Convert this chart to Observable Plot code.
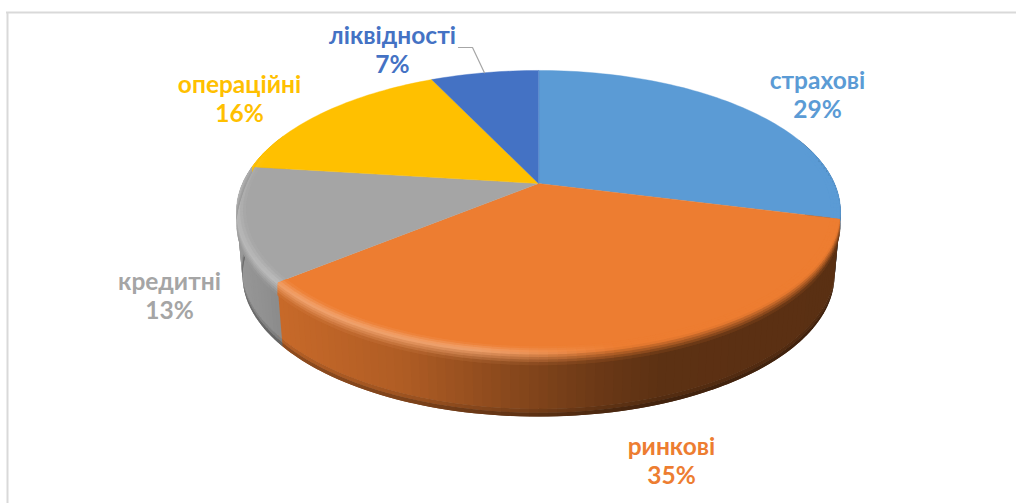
<!DOCTYPE html>
<html><head><meta charset="utf-8">
<script src="https://cdn.jsdelivr.net/npm/d3@7"></script>
<script src="https://cdn.jsdelivr.net/npm/@observablehq/plot@0.6"></script>
<style>html,body{margin:0;padding:0;background:#fff}svg{display:block}</style>
</head><body><div id="chart"></div>
<script>
const categories = ["страхові", "ринкові", "кредитні", "операційні", "ліквідності"];
const shares = [29, 35, 13, 16, 7];
const colors = ["#5B9BD5", "#ED7D31", "#A5A5A5", "#FFC000", "#4472C4"];

// layout
const W = 1016, H = 503;
const labelX = [817, 671, 169, 239, 392];
const labelY = [81, 447, 282, 85, 36];
const cx = 538, cy = 183, R = 296, S = 135.5, k = 0.1988;
const bevelDrop = 12, depth = 64, bottomScale = 0.98, inner = 0.97;
const STEP = 1.5 * Math.PI / 180;

const total = d3.sum(shares);
const cum = d3.cumsum(shares);
const angle = v => v / total * 2 * Math.PI;
const slices = categories.map((c, i) => ({c, i, a0: angle(i ? cum[i - 1] : 0), a1: angle(cum[i]), color: colors[i]}));

function P(t, r = 1) {
  const u = r * Math.sin(t), v = r * Math.cos(t), w = 1 + k * v;
  return [cx + R * u / w, cy - S * v / w];
}
const wallShade = d3.scaleLinear().domain([236, 280, 400, 500, 600, 660, 840]).range([.92, .84, .74, .59, .45, .39, .38]).clamp(true);
const highlight = d3.scaleLinear().domain([236, 300, 480, 620]).range([.22, .3, .3, 0]).clamp(true);
const shade = (c, f) => { const q = d3.rgb(c); return d3.rgb(q.r * f, q.g * f, q.b * f).formatHex(); };
const mix = (a, b, t) => d3.interpolateRgb(a, b)(t);
const frontness = t => { const v = Math.cos(t); return Math.max(0, Math.min(1, (0.25 - v) / 0.3)); };

function arcs(a0, a1) {
  const n = Math.max(1, Math.ceil((a1 - a0) / STEP)), out = [];
  for (let j = 0; j < n; j++) out.push([a0 + (a1 - a0) * j / n, a0 + (a1 - a0) * (j + 1) / n]);
  return out;
}

const quads = [];
let id = 0;
function quad(pts, color) { id++; for (const p of pts) quads.push({x: p[0], y: p[1], z: id, color}); }
const lower = ([x, y], d) => [cx + (x - cx) * (1 - (1 - bottomScale) * d), y + depth * d];

// side wall, painted first; every strip runs on under the next one so no seams show
for (const s of slices) {
  if (Math.cos(s.a0) > 0.9 && Math.cos(s.a1) > 0.9) continue;
  for (const [t0, t1] of arcs(s.a0, s.a1)) {
    if (Math.cos((t0 + t1) / 2) > 0.35) continue;
    const te = t1 + STEP;
    const p0 = P(t0), p1 = P(te), f = wallShade(P((t0 + t1) / 2)[0]);
    const rows = [[0, .88, f], [.88, .94, f * .9], [.94, 1, f * .72]];
    for (const [d0, d1, g] of rows)
      quad([lower(p0, d0), lower(p1, d0), lower(p1, d1), lower(p0, d1)], shade(s.color, g));
  }
}
// flat top
const tops = [];
for (const s of slices) {
  id++;
  tops.push({x: cx, y: cy, z: id, color: s.color});
  for (const [t0] of arcs(s.a0, s.a1)) { const p = P(t0); tops.push({x: p[0], y: p[1], z: id, color: s.color}); }
  const p = P(s.a1); tops.push({x: p[0], y: p[1], z: id, color: s.color});
}
// rounded rim
const bands = [];
const sSteps = d3.range(0, 1.0001, 1 / 8);
function rim(t, sv) {
  const a = frontness(t);
  const r = inner + (1 - inner) * Math.min(sv / .4, 1);
  const [x, y] = P(t, r);
  return [x, y + (sv > .4 ? (sv - .4) / .6 * bevelDrop * a : 0)];
}
for (const s of slices) {
  for (const [t0, t1] of arcs(s.a0, s.a1)) {
    const tm = (t0 + t1) / 2, a = frontness(tm);
    if (a <= 0) continue;
    const xm = P(tm)[0];
    const wall = shade(s.color, wallShade(xm));
    const hl = mix(s.color, "#ffffff", highlight(xm));
    const te = Math.min(t1 + STEP, s.a1);
    for (let j = 0; j < sSteps.length - 1; j++) {
      const s0 = sSteps[j], s1 = sSteps[j + 1], sm = (s0 + s1) / 2;
      let c = sm < .4 ? mix(s.color, hl, sm / .4) : mix(hl, wall, (sm - .4) / .6);
      c = d3.rgb(mix(s.color, c, a)).formatHex();
      const pts = [rim(t0, s0), rim(te, s0), rim(te, s1 + .03), rim(t0, s1 + .03)];
      id++;
      for (const p of pts) bands.push({x: p[0], y: p[1], z: id, color: c});
    }
  }
}

const labelRows = slices.flatMap(s => [
  {x: labelX[s.i], y: labelY[s.i], text: s.c, color: s.color},
  {x: labelX[s.i], y: labelY[s.i] + 29, text: shares[s.i] + "%", color: s.color}
]);

// leader of the smallest slice ends at its mid-angle on the rim
const liq = slices[4], tip = P((liq.a0 + liq.a1) / 2);
const leader = [
  {x: labelX[4] + 66, y: labelY[4] + 11},
  {x: labelX[4] + 80, y: labelY[4] + 11},
  {x: tip[0], y: tip[1]}
];

const filled = (d, sw) => Plot.line(d, {x: "x", y: "y", z: "z", fill: "color", stroke: sw ? "color" : "none", strokeWidth: sw, curve: "linear-closed"});

const chart = Plot.plot({
  width: W, height: H, margin: 0,
  x: {domain: [0, W], range: [0, W], axis: null},
  y: {domain: [0, H], range: [0, H], axis: null},
  color: {type: "identity"},
  style: {fontFamily: "Lato, 'Open Sans', sans-serif", background: "#fff"},
  marks: [
    Plot.ruleX([7], {y1: 12, y2: H, stroke: "#D9D9D9", strokeWidth: 2}),
    Plot.ruleY([12], {x1: 6, x2: W, stroke: "#D9D9D9", strokeWidth: 2}),
    filled(quads, 0),
    filled(tops, 0.4),
    filled(bands, 0),
    Plot.line(leader, {x: "x", y: "y", stroke: "#A6A6A6", strokeWidth: 1.2}),
    Plot.text(labelRows, {x: "x", y: "y", text: "text", fill: "color", fontSize: 24.5, fontWeight: 700, textAnchor: "middle"})
  ]
});
document.getElementById("chart").append(chart);
</script></body></html>
